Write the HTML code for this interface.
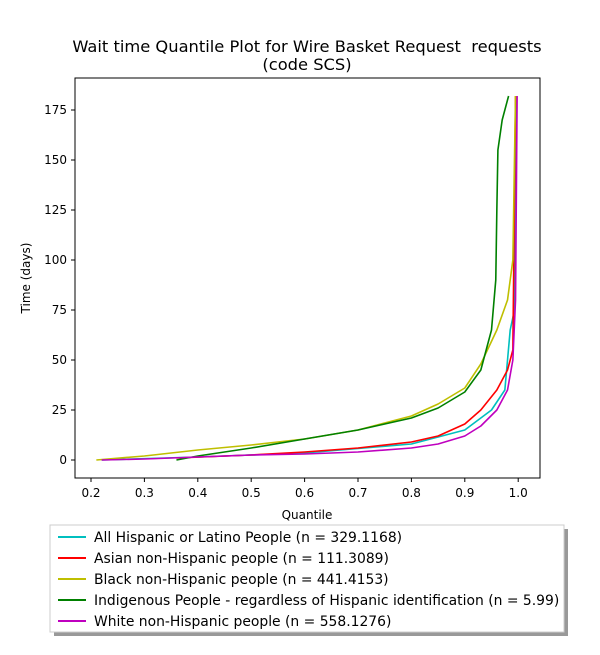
<!DOCTYPE html>
<html><head><meta charset="utf-8"><style>
body{margin:0;background:#fff;font-family:"Liberation Sans","DejaVu Sans",sans-serif;}
svg text{font-family:"DejaVu Sans","Liberation Sans",sans-serif;white-space:pre;}
</style></head><body>
<svg id="chart" width="600" height="650" xmlns="http://www.w3.org/2000/svg">
<text x="307" y="52" font-size="16.3" text-anchor="middle" xml:space="preserve">Wait time Quantile Plot for Wire Basket Request  requests</text>
<text x="307" y="70" font-size="16.3" text-anchor="middle">(code SCS)</text>
<g id="plot"></g>
<rect x="75" y="78" width="465" height="400" fill="none" stroke="#000" stroke-width="1"/>
<g id="xticks"></g><g id="yticks"></g>
<text x="307" y="519" font-size="12" text-anchor="middle">Quantile</text>
<text transform="translate(30,278) rotate(-90)" font-size="12" text-anchor="middle">Time (days)</text>
<rect x="54" y="529" width="514" height="107" fill="#999"/>
<rect x="50" y="525" width="514" height="107" fill="#fff" stroke="#ccc"/>
<g id="legend"></g>
</svg>
<script>
const seriesNames=["All Hispanic or Latino People (n = 329.1168)","Asian non-Hispanic people (n = 111.3089)","Black non-Hispanic people (n = 441.4153)","Indigenous People - regardless of Hispanic identification (n = 5.99)","White non-Hispanic people (n = 558.1276)"];
const seriesColors=["#00bfbf","#ff0000","#bfbf00","#008000","#bf00bf"];
const cyanQ=[0.22,0.4,0.6,0.8,0.9,0.95,0.975,0.985,0.993,0.996];
const cyanT=[0,1.5,3.5,8,15,25,35,65,75,182];
const redQ=[0.36,0.5,0.6,0.7,0.8,0.85,0.9,0.93,0.96,0.98,0.99,0.995];
const redT=[1,2.5,4,6,9,12,18,25,35,45,55,182];
const yellowQ=[0.21,0.3,0.4,0.5,0.6,0.7,0.8,0.85,0.9,0.93,0.96,0.98,0.99,0.993,0.995];
const yellowT=[0,2,5,7.5,10.5,15,22,28,36,48,65,80,100,150,182];
const greenQ=[0.36,0.4,0.5,0.6,0.7,0.8,0.85,0.9,0.93,0.95,0.958,0.96,0.962,0.97,0.982];
const greenT=[0,2,6,10.5,15,21,26,34,45,65,90,125,155,170,182];
const magentaQ=[0.22,0.3,0.4,0.5,0.6,0.7,0.8,0.85,0.9,0.93,0.96,0.98,0.99,0.995,0.998];
const magentaT=[0,0.5,1.5,2.5,3,4,6,8,12,17,25,35,50,80,182];
const xTicks=[0.2,0.3,0.4,0.5,0.6,0.7,0.8,0.9,1.0];
const xTickLabels=["0.2","0.3","0.4","0.5","0.6","0.7","0.8","0.9","1.0"];
const yTicks=[0,25,50,75,100,125,150,175];
const NS="http://www.w3.org/2000/svg";
function xs(q){return 91+(q-0.2)*534;}
function ys(t){return 460-t*2;}
const series=[[cyanQ,cyanT],[redQ,redT],[yellowQ,yellowT],[greenQ,greenT],[magentaQ,magentaT]];
const plot=document.getElementById('plot');
series.forEach((s,i)=>{
  const p=document.createElementNS(NS,'polyline');
  p.setAttribute('points',s[0].map((q,j)=>xs(q)+','+ys(s[1][j])).join(' '));
  p.setAttribute('fill','none');p.setAttribute('stroke',seriesColors[i]);p.setAttribute('stroke-width','1.6');p.setAttribute('stroke-linejoin','round');
  
  
  plot.appendChild(p);
});
const xg=document.getElementById('xticks');
xTicks.forEach((v,i)=>{
  const l=document.createElementNS(NS,'line');
  l.setAttribute('x1',xs(v));l.setAttribute('x2',xs(v));l.setAttribute('y1',478);l.setAttribute('y2',482);l.setAttribute('stroke','#000');
  
  
  xg.appendChild(l);
  const t=document.createElementNS(NS,'text');
  t.setAttribute('x',xs(v));t.setAttribute('y',497);t.setAttribute('font-size','12');t.setAttribute('text-anchor','middle');
  t.textContent=xTickLabels[i];
  
  
  xg.appendChild(t);
});
const yg=document.getElementById('yticks');
yTicks.forEach(v=>{
  const l=document.createElementNS(NS,'line');
  l.setAttribute('x1',71);l.setAttribute('x2',75);l.setAttribute('y1',ys(v));l.setAttribute('y2',ys(v));l.setAttribute('stroke','#000');
  
  
  yg.appendChild(l);
  const t=document.createElementNS(NS,'text');
  t.setAttribute('x',67);t.setAttribute('y',ys(v)+4);t.setAttribute('font-size','12');t.setAttribute('text-anchor','end');
  t.textContent=String(v);
  
  
  yg.appendChild(t);
});
const lg=document.getElementById('legend');
seriesNames.forEach((n,i)=>{
  const y=537+i*21;
  const l=document.createElementNS(NS,'line');
  l.setAttribute('x1',58);l.setAttribute('x2',86);l.setAttribute('y1',y);l.setAttribute('y2',y);l.setAttribute('stroke',seriesColors[i]);l.setAttribute('stroke-width','2');
  
  
  lg.appendChild(l);
  const t=document.createElementNS(NS,'text');
  t.setAttribute('x',94);t.setAttribute('y',y+5);t.setAttribute('font-size','13.9');
  t.textContent=n;
  
  
  lg.appendChild(t);
});
</script>
</body></html>
